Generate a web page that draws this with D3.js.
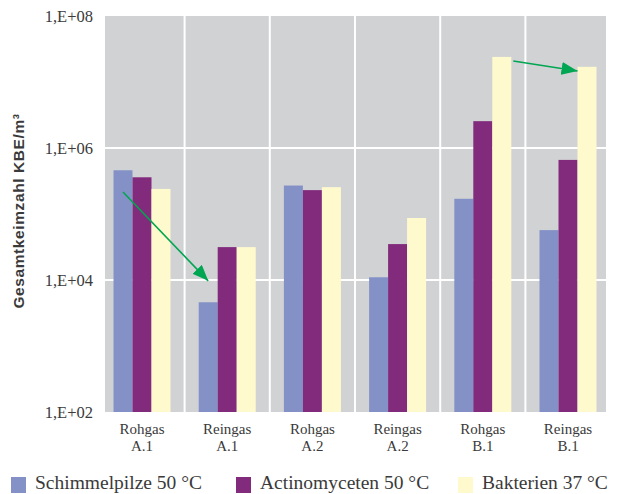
<!DOCTYPE html>
<html>
<head>
<meta charset="utf-8">
<script src="https://cdn.jsdelivr.net/npm/d3@7"></script>
<style>
  html, body { margin: 0; padding: 0; background: #fff; }
  svg { display: block; }
</style>
</head>
<body>
<svg id="chart" width="620" height="494"></svg>
<script>
// ---- data ----
const categories = ["Rohgas A.1", "Reingas A.1", "Rohgas A.2", "Reingas A.2", "Rohgas B.1", "Reingas B.1"];
const catLine1 = ["Rohgas", "Reingas", "Rohgas", "Reingas", "Rohgas", "Reingas"];
const catLine2 = ["A.1", "A.1", "A.2", "A.2", "B.1", "B.1"];
const seriesNames = ["Schimmelpilze 50 °C", "Actinomyceten 50 °C", "Bakterien 37 °C"];
const schimmelpilze = [4.6e5, 4.6e3, 2.7e5, 1.1e4, 1.7e5, 5.7e4];
const actinomyceten = [3.6e5, 3.15e4, 2.3e5, 3.5e4, 2.55e6, 6.6e5];
const bakterien = [2.4e5, 3.15e4, 2.55e5, 8.7e4, 2.4e7, 1.7e7];
const tickValues = [1e2, 1e4, 1e6, 1e8];
const yTitle = "Gesamtkeimzahl KBE/m³";
// annotation arrows: [category, series, value] -> [category, series, value]
const arrows = [
  { from: ["Rohgas A.1", 0, 2.15e5], to: ["Reingas A.1", 0, 9.7e3], fromPos: "center", toPos: "center" },
  { from: ["Rohgas B.1", 2, 2.08e7], to: ["Reingas B.1", 2, 1.47e7], fromPos: "right", toPos: "left" }
];
const colors = ["#8491c6", "#822a7b", "#fffacd"];

const seriesValues = [schimmelpilze, actinomyceten, bakterien];

// ---- layout ----
const svg = d3.select("#chart");
const plot = { left: 105, right: 606, top: 16, bottom: 412 };
const textColor = "#3a3a3a";
const serif = "'Liberation Serif', 'Times New Roman', serif";

const x0 = d3.scaleBand().domain(categories).range([99.4, 610.6]).paddingInner(0).paddingOuter(0);
const x1 = d3.scaleBand().domain(d3.range(seriesNames.length)).range([0, x0.bandwidth()])
  .paddingInner(0).paddingOuter(0.742);
const y = d3.scaleLog().domain([1e2, 1e8]).range([plot.bottom, plot.top]);

// background
svg.append("rect")
  .attr("x", plot.left).attr("y", plot.top)
  .attr("width", plot.right - plot.left).attr("height", plot.bottom - plot.top)
  .attr("fill", "#d1d2d4");

// horizontal gridlines
svg.append("g").selectAll("line")
  .data(tickValues.filter(v => v > 1e2 && v < 1e8))
  .join("line")
  .attr("x1", plot.left).attr("x2", plot.right)
  .attr("y1", d => y(d)).attr("y2", d => y(d))
  .attr("stroke", "#fff").attr("stroke-width", 2);

// vertical separators
svg.append("g").selectAll("line")
  .data(categories.slice(1))
  .join("line")
  .attr("x1", d => x0(d)).attr("x2", d => x0(d))
  .attr("y1", plot.top).attr("y2", plot.bottom)
  .attr("stroke", "#fff").attr("stroke-width", 2);

// bars
const groups = svg.append("g").selectAll("g")
  .data(categories)
  .join("g")
  .attr("transform", d => `translate(${x0(d)},0)`);

groups.selectAll("rect")
  .data((c, i) => seriesValues.map((vals, s) => ({ s, v: vals[i] })))
  .join("rect")
  .attr("x", d => x1(d.s))
  .attr("width", x1.bandwidth())
  .attr("y", d => y(d.v))
  .attr("height", d => y(1e2) - y(d.v))
  .attr("fill", d => colors[d.s]);

// y axis
const yAxis = d3.axisLeft(y)
  .tickValues(tickValues)
  .tickSize(0)
  .tickPadding(12)
  .tickFormat(d => "1,E+" + String(Math.round(Math.log10(d))).padStart(2, "0"));
const yg = svg.append("g").attr("transform", `translate(${plot.left},0)`).call(yAxis);
yg.select(".domain").remove();
yg.selectAll("text")
  .attr("font-family", serif).attr("font-size", 16.5).attr("fill", textColor);

// x axis (two-line labels)
const xAxis = d3.axisBottom(x0).tickSize(0).tickPadding(0).tickFormat("");
const xg = svg.append("g").attr("transform", `translate(0,${plot.bottom})`).call(xAxis);
xg.select(".domain").remove();
xg.selectAll(".tick").each(function(d, i) {
  const g = d3.select(this);
  g.select("text").remove();
  g.append("text").attr("x", 0).attr("y", 22).attr("text-anchor", "middle")
    .attr("font-family", serif).attr("font-size", 15).attr("fill", textColor)
    .text(catLine1[i]);
  g.append("text").attr("x", 0).attr("y", 39).attr("text-anchor", "middle")
    .attr("font-family", serif).attr("font-size", 15).attr("fill", textColor)
    .text(catLine2[i]);
});

// y title
svg.append("text")
  .attr("transform", `translate(24,211) rotate(-90)`)
  .attr("text-anchor", "middle")
  .attr("font-family", "'Liberation Sans', Arial, sans-serif")
  .attr("font-weight", "bold")
  .attr("font-size", 15.5)
  .attr("letter-spacing", 0.6)
  .attr("fill", textColor)
  .text(yTitle);

// arrows
const green = "#00a651";
svg.append("defs").append("marker")
  .attr("id", "ah")
  .attr("markerUnits", "userSpaceOnUse")
  .attr("viewBox", "0 0 16 13")
  .attr("refX", 16).attr("refY", 6.5)
  .attr("markerWidth", 16).attr("markerHeight", 13)
  .attr("orient", "auto")
  .append("path").attr("d", "M0,0 L16,6.5 L0,13 Z").attr("fill", green);

function ax(cat, s, pos) {
  const base = x0(cat) + x1(s);
  if (pos === "left") return base;
  if (pos === "right") return base + x1.bandwidth() + 2;
  return base + x1.bandwidth() / 2;
}
svg.append("g").selectAll("line")
  .data(arrows)
  .join("line")
  .attr("x1", d => ax(d.from[0], d.from[1], d.fromPos))
  .attr("y1", d => y(d.from[2]))
  .attr("x2", d => ax(d.to[0], d.to[1], d.toPos))
  .attr("y2", d => y(d.to[2]))
  .attr("stroke", green).attr("stroke-width", 1.6)
  .attr("marker-end", "url(#ah)");

// legend
const legendX = [11, 236, 458];
const lg = svg.append("g").selectAll("g")
  .data(seriesNames)
  .join("g")
  .attr("transform", (d, i) => `translate(${legendX[i]},0)`);
lg.append("rect").attr("x", 0).attr("y", 477).attr("width", 15).attr("height", 16)
  .attr("fill", (d, i) => colors[i]);
lg.append("text").attr("x", 24).attr("y", 489)
  .attr("font-family", serif).attr("font-size", 19.5).attr("fill", textColor)
  .text(d => d);
</script>
</body>
</html>
